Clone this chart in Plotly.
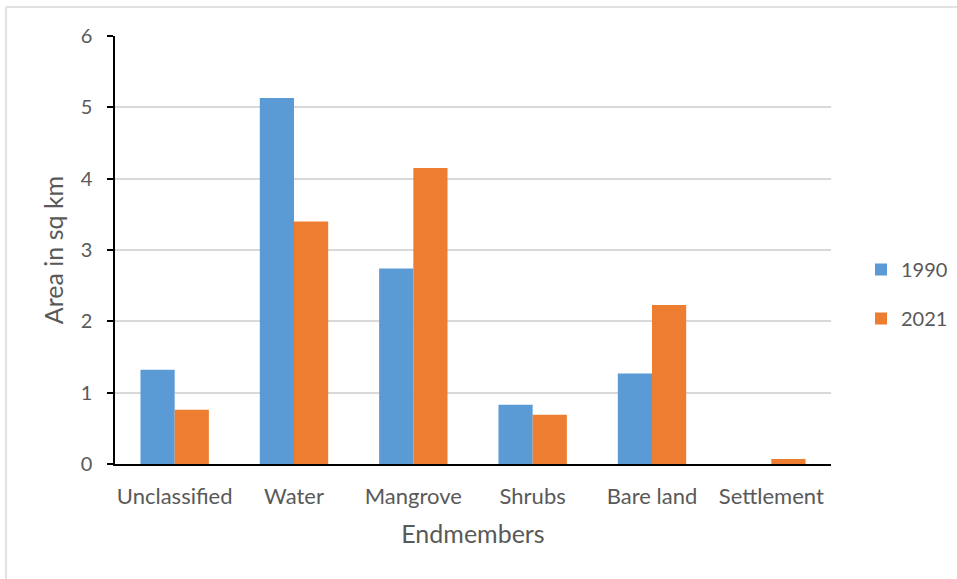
import plotly.graph_objects as go

# Land-cover area per endmember class, two survey years
categories = ["Unclassified", "Water", "Mangrove", "Shrubs", "Bare land", "Settlement"]
area_1990 = [1.32, 5.13, 2.74, 0.83, 1.27, 0.0]
area_2021 = [0.76, 3.40, 4.15, 0.69, 2.23, 0.07]
y_ticks = [0, 1, 2, 3, 4, 5, 6]

BLUE = "#5B9BD5"
ORANGE = "#ED7D31"
TEXT = "#595959"
GRID = "#D9D9D9"
FONT = "Lato"

W, H = 957, 579
ML, MR, MT, MB = 115, 126, 36, 115
PW, PH = W - ML - MR, H - MT - MB


def px_x(p):
    return (p - ML) / PW


def px_y(p):
    return (H - MB - p) / PH


fig = go.Figure()
fig.add_trace(go.Bar(name="1990", x=categories, y=area_1990, marker=dict(color=BLUE, line=dict(width=0)),
                     legendgroup="a"))
fig.add_trace(go.Bar(name="2021", x=categories, y=area_2021, marker=dict(color=ORANGE, line=dict(width=0)),
                     legendgroup="b"))

fig.update_layout(
    width=W, height=H,
    margin=dict(l=ML, r=MR, t=MT, b=MB, pad=0, autoexpand=False),
    paper_bgcolor="white", plot_bgcolor="white",
    font=dict(family=FONT, size=20, color=TEXT),
    barmode="group", bargap=0.427, bargroupgap=0,
    showlegend=True,
    legend=dict(x=px_x(861), y=px_y(294), xanchor="left", yanchor="middle",
                font=dict(family=FONT, size=20, color=TEXT),
                tracegroupgap=20, bgcolor="rgba(0,0,0,0)", itemwidth=30),
    xaxis=dict(
        showline=True, linecolor="black", linewidth=2, ticks="",
        tickfont=dict(family=FONT, size=22, color=TEXT),
        ticklabelstandoff=12,
        title=dict(text="Endmembers", font=dict(family=FONT, size=25, color=TEXT), standoff=17),
        showgrid=False, zeroline=False,
    ),
    yaxis=dict(
        range=[0, 6], tickvals=y_ticks, ticktext=[str(v) for v in y_ticks],
        showline=True, linecolor="black", linewidth=1.5,
        ticks="outside", ticklen=6, tickcolor="black", tickwidth=1.5,
        showgrid=True, gridcolor=GRID, gridwidth=1.5, zeroline=False,
        tickfont=dict(family=FONT, size=20, color=TEXT),
        ticklabelstandoff=11,
        title=dict(text="Area in sq km", font=dict(family=FONT, size=25, color=TEXT), standoff=10),
    ),
)

# Light chart-area frame (left and top edges)
fig.add_shape(type="line", xref="paper", yref="paper",
              x0=px_x(6), x1=px_x(6), y0=px_y(H + 5), y1=px_y(7),
              line=dict(color=GRID, width=1.5))
fig.add_shape(type="line", xref="paper", yref="paper",
              x0=px_x(6), x1=px_x(W + 5), y0=px_y(7), y1=px_y(7),
              line=dict(color=GRID, width=1.5))

fig.write_html("out.html")
